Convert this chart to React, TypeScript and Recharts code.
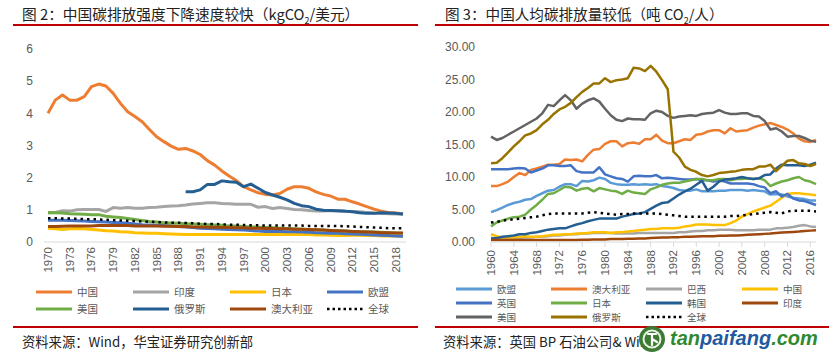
import React from "react";
import { LineChart, Line, XAxis, YAxis } from "recharts";

// ---------- 图2 data (kgCO2/美元), 1970-2019 ----------
const years1 = [
  1970, 1971, 1972, 1973, 1974, 1975, 1976, 1977, 1978, 1979,
  1980, 1981, 1982, 1983, 1984, 1985, 1986, 1987, 1988, 1989,
  1990, 1991, 1992, 1993, 1994, 1995, 1996, 1997, 1998, 1999,
  2000, 2001, 2002, 2003, 2004, 2005, 2006, 2007, 2008, 2009,
  2010, 2011, 2012, 2013, 2014, 2015, 2016, 2017, 2018, 2019,
];
const china1 = [4.0, 4.41, 4.57, 4.41, 4.41, 4.52, 4.83, 4.91, 4.85, 4.62, 4.31, 4.05, 3.9, 3.74, 3.5, 3.27, 3.12, 2.98, 2.88, 2.91, 2.83, 2.72, 2.53, 2.39, 2.21, 2.05, 1.91, 1.72, 1.62, 1.53, 1.48, 1.46, 1.51, 1.64, 1.72, 1.72, 1.67, 1.56, 1.48, 1.43, 1.33, 1.33, 1.25, 1.18, 1.1, 1.02, 0.96, 0.92, 0.9, 0.88];
const india1 = [0.9, 0.92, 0.97, 0.96, 1.0, 1.01, 1.01, 1.01, 0.95, 1.07, 1.05, 1.07, 1.05, 1.05, 1.07, 1.08, 1.1, 1.12, 1.13, 1.15, 1.18, 1.2, 1.22, 1.22, 1.2, 1.19, 1.17, 1.17, 1.17, 1.08, 1.1, 1.04, 1.07, 1.04, 1.01, 1.0, 0.98, 0.96, 0.96, 0.98, 0.96, 0.95, 0.95, 0.94, 0.92, 0.9, 0.89, 0.88, 0.87, 0.86];
const japan1 = [0.43, 0.41, 0.39, 0.41, 0.42, 0.41, 0.39, 0.37, 0.35, 0.34, 0.32, 0.31, 0.29, 0.28, 0.27, 0.27, 0.26, 0.25, 0.24, 0.23, 0.23, 0.23, 0.23, 0.23, 0.23, 0.23, 0.23, 0.23, 0.23, 0.23, 0.23, 0.23, 0.23, 0.23, 0.23, 0.23, 0.23, 0.22, 0.22, 0.21, 0.2, 0.2, 0.21, 0.21, 0.2, 0.2, 0.19, 0.19, 0.19, 0.18];
const eu1 = [0.68, 0.68, 0.68, 0.67, 0.66, 0.65, 0.64, 0.63, 0.62, 0.61, 0.6, 0.58, 0.56, 0.54, 0.53, 0.52, 0.51, 0.5, 0.48, 0.47, 0.45, 0.43, 0.42, 0.41, 0.4, 0.39, 0.38, 0.37, 0.36, 0.34, 0.33, 0.33, 0.33, 0.32, 0.32, 0.31, 0.3, 0.29, 0.28, 0.27, 0.27, 0.26, 0.25, 0.24, 0.23, 0.22, 0.21, 0.2, 0.19, 0.18];
const us1 = [0.92, 0.91, 0.9, 0.88, 0.87, 0.86, 0.85, 0.85, 0.8, 0.78, 0.76, 0.73, 0.7, 0.67, 0.64, 0.62, 0.6, 0.59, 0.58, 0.57, 0.56, 0.55, 0.54, 0.53, 0.52, 0.5, 0.5, 0.48, 0.47, 0.46, 0.45, 0.44, 0.43, 0.42, 0.41, 0.4, 0.39, 0.38, 0.37, 0.36, 0.35, 0.34, 0.33, 0.32, 0.32, 0.31, 0.3, 0.29, 0.28, 0.27];
const russia1 = [null, null, null, null, null, null, null, null, null, null, null, null, null, null, null, null, null, null, null, 1.56, 1.56, 1.62, 1.79, 1.79, 1.9, 1.87, 1.86, 1.72, 1.8, 1.67, 1.54, 1.46, 1.39, 1.31, 1.2, 1.13, 1.1, 1.02, 0.99, 0.98, 0.97, 0.96, 0.94, 0.91, 0.89, 0.89, 0.91, 0.9, 0.89, 0.87];
const aus1 = [0.48, 0.48, 0.49, 0.5, 0.5, 0.5, 0.5, 0.51, 0.51, 0.51, 0.51, 0.51, 0.5, 0.5, 0.5, 0.5, 0.49, 0.49, 0.48, 0.48, 0.47, 0.47, 0.46, 0.46, 0.45, 0.45, 0.44, 0.44, 0.43, 0.43, 0.42, 0.42, 0.41, 0.41, 0.4, 0.4, 0.39, 0.38, 0.37, 0.36, 0.35, 0.34, 0.33, 0.32, 0.31, 0.3, 0.29, 0.29, 0.28, 0.28];
const world1 = [0.74, 0.74, 0.73, 0.73, 0.72, 0.71, 0.71, 0.7, 0.69, 0.68, 0.67, 0.66, 0.65, 0.64, 0.63, 0.62, 0.61, 0.6, 0.6, 0.59, 0.58, 0.57, 0.56, 0.56, 0.55, 0.54, 0.54, 0.53, 0.52, 0.52, 0.51, 0.51, 0.51, 0.51, 0.51, 0.51, 0.5, 0.5, 0.5, 0.5, 0.5, 0.49, 0.48, 0.47, 0.46, 0.45, 0.44, 0.43, 0.43, 0.43];
const yTicks1 = [0, 1, 2, 3, 4, 5, 6];

// ---------- 图3 data (吨CO2/人), 1960-2017 ----------
const years2 = [
  1960, 1961, 1962, 1963, 1964, 1965, 1966, 1967, 1968, 1969,
  1970, 1971, 1972, 1973, 1974, 1975, 1976, 1977, 1978, 1979,
  1980, 1981, 1982, 1983, 1984, 1985, 1986, 1987, 1988, 1989,
  1990, 1991, 1992, 1993, 1994, 1995, 1996, 1997, 1998, 1999,
  2000, 2001, 2002, 2003, 2004, 2005, 2006, 2007, 2008, 2009,
  2010, 2011, 2012, 2013, 2014, 2015, 2016, 2017,
];
const eu2 = [4.6, 4.9, 5.3, 5.7, 6.0, 6.2, 6.5, 6.6, 7.1, 7.5, 7.9, 8.0, 8.5, 8.9, 8.9, 8.6, 9.4, 9.3, 9.5, 9.9, 9.7, 9.1, 8.9, 8.8, 8.8, 8.9, 8.8, 8.9, 8.8, 8.9, 8.6, 8.5, 8.3, 8.0, 7.9, 7.9, 8.1, 7.8, 7.8, 7.8, 7.9, 7.9, 8.0, 8.0, 8.0, 7.9, 8.0, 7.9, 7.8, 7.3, 7.4, 7.3, 7.0, 6.8, 6.7, 6.6, 6.4, 6.4];
const aus2 = [8.6, 8.6, 8.9, 9.3, 10.0, 10.6, 10.3, 11.1, 11.3, 11.6, 11.9, 11.9, 12.0, 12.7, 12.6, 12.7, 12.4, 13.4, 14.2, 14.3, 15.1, 15.5, 15.5, 14.7, 15.2, 15.3, 15.1, 15.8, 15.8, 16.5, 15.6, 15.2, 15.2, 15.5, 15.8, 15.7, 16.5, 16.6, 17.0, 17.2, 17.2, 16.7, 17.5, 17.0, 17.1, 17.2, 17.6, 17.9, 18.1, 18.3, 18.0, 17.7, 17.3, 16.7, 15.9, 15.5, 15.4, 15.7];
const brazil2 = [0.6, 0.6, 0.6, 0.6, 0.6, 0.6, 0.7, 0.7, 0.8, 0.8, 0.9, 1.0, 1.0, 1.1, 1.2, 1.2, 1.3, 1.3, 1.4, 1.4, 1.4, 1.4, 1.3, 1.3, 1.3, 1.3, 1.4, 1.4, 1.4, 1.4, 1.4, 1.4, 1.4, 1.5, 1.5, 1.6, 1.7, 1.7, 1.8, 1.8, 1.9, 1.9, 1.9, 1.8, 1.8, 1.8, 1.8, 1.9, 1.9, 1.9, 2.1, 2.1, 2.2, 2.3, 2.5, 2.6, 2.4, 2.3];
const china2 = [1.2, 0.9, 0.7, 0.7, 0.7, 0.8, 0.9, 0.8, 0.8, 0.9, 1.0, 1.1, 1.1, 1.2, 1.2, 1.3, 1.3, 1.4, 1.5, 1.5, 1.5, 1.4, 1.5, 1.5, 1.6, 1.7, 1.8, 1.9, 2.0, 2.0, 2.1, 2.1, 2.1, 2.2, 2.4, 2.5, 2.7, 2.7, 2.7, 2.6, 2.6, 2.6, 2.9, 3.3, 3.9, 4.3, 4.7, 5.0, 5.3, 5.6, 6.2, 6.8, 7.4, 7.5, 7.5, 7.4, 7.3, 7.2];
const uk2 = [11.2, 11.2, 11.2, 11.2, 11.3, 11.4, 11.3, 10.7, 11.0, 11.3, 11.8, 11.8, 11.7, 11.7, 11.8, 10.9, 10.7, 10.7, 10.7, 11.5, 10.4, 10.1, 9.8, 9.7, 9.3, 10.1, 10.2, 10.1, 10.1, 10.3, 9.8, 9.9, 9.8, 9.7, 9.6, 9.6, 9.7, 9.5, 9.5, 9.3, 9.5, 9.3, 9.0, 9.0, 9.0, 9.0, 8.9, 8.6, 8.4, 7.5, 7.8, 7.0, 7.4, 6.7, 6.4, 6.3, 6.0, 5.7];
const japan2 = [2.4, 3.0, 3.3, 3.6, 3.8, 3.9, 4.2, 5.0, 5.7, 6.5, 7.4, 7.5, 8.0, 8.5, 8.4, 7.9, 8.2, 8.3, 7.8, 8.3, 8.1, 7.9, 7.8, 7.4, 7.9, 7.6, 7.5, 7.4, 8.1, 8.4, 8.8, 9.0, 9.1, 9.1, 9.3, 9.5, 9.7, 9.7, 9.5, 9.5, 9.7, 9.7, 9.5, 9.7, 9.7, 9.8, 9.7, 9.8, 9.5, 8.6, 9.0, 9.3, 9.5, 9.8, 10.0, 9.5, 9.3, 8.9];
const korea2 = [0.5, 0.6, 0.8, 0.9, 1.0, 1.2, 1.2, 1.4, 1.5, 1.7, 1.9, 2.0, 2.1, 2.1, 2.4, 2.7, 2.9, 3.2, 3.4, 3.6, 3.6, 3.6, 3.6, 3.9, 4.1, 4.3, 4.4, 4.6, 5.1, 5.6, 6.0, 6.1, 6.7, 7.3, 7.8, 8.2, 8.8, 9.4, 7.9, 8.5, 9.3, 9.6, 9.7, 9.8, 10.0, 9.8, 9.7, 9.8, 10.3, 10.4, 11.3, 11.9, 11.8, 11.8, 11.8, 11.7, 11.9, 12.2];
const india2 = [0.3, 0.3, 0.3, 0.3, 0.3, 0.3, 0.3, 0.3, 0.3, 0.3, 0.3, 0.3, 0.3, 0.3, 0.3, 0.3, 0.35, 0.35, 0.4, 0.4, 0.4, 0.45, 0.45, 0.45, 0.5, 0.5, 0.55, 0.55, 0.6, 0.65, 0.7, 0.7, 0.75, 0.75, 0.8, 0.8, 0.85, 0.9, 0.9, 0.9, 0.95, 0.95, 1.0, 1.0, 1.05, 1.1, 1.15, 1.2, 1.25, 1.3, 1.4, 1.45, 1.5, 1.55, 1.6, 1.7, 1.75, 1.8];
const us2 = [16.2, 15.7, 16.0, 16.5, 17.0, 17.5, 18.0, 18.5, 19.0, 19.8, 21.1, 20.9, 21.8, 22.6, 21.8, 20.5, 21.3, 21.8, 22.1, 21.6, 20.5, 19.5, 18.8, 18.6, 19.0, 18.9, 18.9, 18.8, 19.8, 20.2, 20.0, 19.4, 19.1, 19.3, 19.4, 19.5, 19.4, 19.7, 19.8, 19.9, 20.3, 19.9, 19.7, 19.7, 19.8, 19.8, 19.4, 19.3, 18.6, 17.3, 17.5, 17.0, 16.2, 16.3, 16.3, 16.0, 15.6, 15.4];
const russia2 = [12.1, 12.2, 12.9, 13.8, 14.7, 15.5, 16.4, 16.7, 17.2, 18.1, 18.8, 19.7, 20.4, 20.8, 21.4, 22.3, 23.1, 23.7, 24.4, 24.4, 25.2, 24.6, 24.9, 25.0, 25.2, 26.8, 26.7, 26.3, 27.1, 26.2, 24.9, 23.5, 13.9, 13.0, 11.6, 11.1, 10.8, 10.3, 10.1, 10.3, 10.6, 10.7, 10.8, 10.9, 11.1, 11.2, 11.2, 11.6, 11.6, 11.9, 10.9, 11.7, 12.5, 12.6, 12.1, 12.0, 11.7, 12.0];
const world2 = [3.0, 3.1, 3.3, 3.4, 3.5, 3.6, 3.7, 3.8, 3.9, 4.1, 4.3, 4.4, 4.4, 4.4, 4.4, 4.4, 4.4, 4.5, 4.6, 4.5, 4.4, 4.3, 4.2, 4.3, 4.3, 4.4, 4.4, 4.4, 4.4, 4.4, 4.3, 4.2, 4.1, 4.0, 3.9, 3.9, 3.9, 3.9, 3.9, 3.9, 3.9, 3.9, 4.0, 4.0, 4.1, 4.2, 4.3, 4.4, 4.5, 4.6, 4.5, 4.4, 4.7, 4.8, 4.8, 4.8, 4.8, 4.7];
const yTicks2 = [0, 5, 10, 15, 20, 25, 30];

type Series = { key: string; name: string; color: string; values: (number | null)[]; dotted?: boolean };

const series1: Series[] = [
  { key: "china", name: "中国", color: "#ED7D31", values: china1 },
  { key: "india", name: "印度", color: "#A5A5A5", values: india1 },
  { key: "japan", name: "日本", color: "#FFC000", values: japan1 },
  { key: "eu", name: "欧盟", color: "#4472C4", values: eu1 },
  { key: "us", name: "美国", color: "#70AD47", values: us1 },
  { key: "russia", name: "俄罗斯", color: "#255E91", values: russia1 },
  { key: "aus", name: "澳大利亚", color: "#9E480E", values: aus1 },
  { key: "world", name: "全球", color: "#000000", values: world1, dotted: true },
];

const series2: Series[] = [
  { key: "eu", name: "欧盟", color: "#5B9BD5", values: eu2 },
  { key: "aus", name: "澳大利亚", color: "#ED7D31", values: aus2 },
  { key: "brazil", name: "巴西", color: "#A5A5A5", values: brazil2 },
  { key: "china", name: "中国", color: "#FFC000", values: china2 },
  { key: "uk", name: "英国", color: "#4472C4", values: uk2 },
  { key: "japan", name: "日本", color: "#70AD47", values: japan2 },
  { key: "korea", name: "韩国", color: "#255E91", values: korea2 },
  { key: "india", name: "印度", color: "#9E480E", values: india2 },
  { key: "us", name: "美国", color: "#636363", values: us2 },
  { key: "russia", name: "俄罗斯", color: "#997300", values: russia2 },
  { key: "world", name: "全球", color: "#000000", values: world2, dotted: true },
];

const buildRows = (years: number[], list: Series[]) =>
  years.map((year, i) => {
    const row: Record<string, number | null> = { year };
    list.forEach((s) => (row[s.key] = s.values[i]));
    return row;
  });

const data1 = buildRows(years1, series1);
const data2 = buildRows(years2, series2);

const CJK = '"Noto Sans CJK SC", "Liberation Sans", sans-serif';
const NUM = '"Liberation Sans", Arial, sans-serif';
const GRAY = "#595959";
const RED = "#C00000";

const RotTick = (props: any) => {
  const { x, y, payload } = props;
  return (
    <text
      x={x}
      y={y}
      transform={`rotate(-90 ${x} ${y})`}
      textAnchor="end"
      dominantBaseline="central"
      fill={GRAY}
      fontSize={11.5}
      fontFamily={NUM}
    >
      {payload.value}
    </text>
  );
};

function Legend({ items, cols, rows, fontSize = 10.5, lineLen = 38 }: { items: Series[]; cols: number[]; rows: number[]; fontSize?: number; lineLen?: number }) {
  return (
    <>
      {items.map((s, i) => {
        const x = cols[i % cols.length];
        const y = rows[Math.floor(i / cols.length)];
        return (
          <div key={s.key} style={{ position: "absolute", left: x, top: y - 6, height: 12, lineHeight: "12px", display: "flex", alignItems: "center" }}>
            <svg width={lineLen} height={6} style={{ display: "block" }}>
              <line
                x1={1}
                y1={3}
                x2={lineLen - 1}
                y2={3}
                stroke={s.color}
                strokeWidth={s.dotted ? 2.5 : 3}
                strokeDasharray={s.dotted ? "2.5 3" : undefined}
              />
            </svg>
            <span style={{ marginLeft: 4, fontSize, lineHeight: "12px", color: GRAY, fontFamily: CJK, whiteSpace: "nowrap" }}>{s.name}</span>
          </div>
        );
      })}
    </>
  );
}

const redLine = (left: number, top: number, width: number) => (
  <div style={{ position: "absolute", left, top, width, height: 2, background: RED }} />
);

export default function App() {
  return (
    <div style={{ position: "absolute", left: 0, top: 0, width: 839, height: 359, background: "#fff", overflow: "hidden", fontFamily: CJK }}>
      {/* 图2 */}
      <div style={{ position: "absolute", left: 22, top: 3, fontSize: 14.7, color: "#222", whiteSpace: "nowrap" }}>
        图 2：中国碳排放强度下降速度较快（kgCO<sub style={{ fontSize: 9 }}>2</sub>/美元）
      </div>
      {redLine(13, 24, 405)}
      <div style={{ position: "absolute", left: 0, top: 0 }}>
        <LineChart width={420} height={290} data={data1} margin={{ top: 49, right: 14, bottom: 8, left: 0 }}>
          <XAxis
            dataKey="year"
            interval={2}
            height={40}
            padding={{ left: 4, right: 3 }}
            axisLine={{ stroke: "#D9D9D9" }}
            tickLine={false}
            tickSize={0}
            tickMargin={5}
            tick={<RotTick />}
          />
          <YAxis
            width={44}
            domain={[0, 6]}
            ticks={yTicks1}
            axisLine={false}
            tickLine={false}
            tickSize={0}
            tickMargin={11}
            tick={{ fill: GRAY, fontSize: 12, fontFamily: NUM }}
          />
          {series1.map((s) => (
            <Line
              key={s.key}
              type="linear"
              dataKey={s.key}
              stroke={s.color}
              strokeWidth={s.dotted ? 2.5 : 3}
              strokeDasharray={s.dotted ? "2.5 4" : undefined}
              strokeLinejoin="round"
              dot={false}
              activeDot={false}
              isAnimationActive={false}
            />
          ))}
        </LineChart>
      </div>
      <Legend items={series1} cols={[35, 132, 229, 326]} rows={[292, 309]} />
      {redLine(13, 326, 405)}
      <div style={{ position: "absolute", left: 22, top: 332, fontSize: 13.3, color: "#222", whiteSpace: "nowrap" }}>
        资料来源：Wind，华宝证券研究创新部
      </div>

      {/* 图3 */}
      <div style={{ position: "absolute", left: 445, top: 3, fontSize: 14.6, color: "#222", whiteSpace: "nowrap" }}>
        图 3：中国人均碳排放量较低（吨 CO<sub style={{ fontSize: 9 }}>2</sub>/人）
      </div>
      {redLine(435, 24, 394)}
      <div style={{ position: "absolute", left: 420, top: 0 }}>
        <LineChart width={419} height={290} data={data2} margin={{ top: 47, right: 23, bottom: 8, left: 0 }}>
          <XAxis
            dataKey="year"
            interval={3}
            height={40}
            padding={{ left: 0, right: 0 }}
            axisLine={{ stroke: "#D9D9D9" }}
            tickLine={{ stroke: "#D9D9D9" }}
            tickSize={5}
            tickMargin={3}
            tick={<RotTick />}
          />
          <YAxis
            width={71}
            domain={[0, 30]}
            ticks={yTicks2}
            axisLine={false}
            tickLine={false}
            tickSize={0}
            tickMargin={16}
            tickFormatter={(v: number) => v.toFixed(2)}
            tick={{ fill: GRAY, fontSize: 12, fontFamily: NUM }}
          />
          {series2.map((s) => (
            <Line
              key={s.key}
              type="linear"
              dataKey={s.key}
              stroke={s.color}
              strokeWidth={2.5}
              strokeDasharray={s.dotted ? "2.5 4" : undefined}
              strokeLinejoin="round"
              dot={false}
              activeDot={false}
              isAnimationActive={false}
            />
          ))}
        </LineChart>
      </div>
      <Legend items={series2} cols={[455, 550, 645, 741]} rows={[288.5, 302.5, 316.5]} fontSize={9.6} />
      {redLine(435, 326, 394)}
      <div style={{ position: "absolute", left: 443, top: 332, fontSize: 13.3, color: "#222", whiteSpace: "nowrap" }}>
        资料来源：英国 BP 石油公司&amp; Wind
      </div>
      {/* watermark logo */}
      <svg style={{ position: "absolute", left: 638, top: 325 }} width={28} height={28}>
        <circle cx={14} cy={14} r={13} fill="#3d7a35" />
        <circle cx={14} cy={14} r={8.5} fill="none" stroke="#e8f2e0" strokeWidth={2} />
        <path d="M10 9 L18 9 M14 9 L14 20 M14 14 L19 17" stroke="#ffffff" strokeWidth={2.2} fill="none" strokeLinecap="round" />
      </svg>
      <div style={{ position: "absolute", left: 670, top: 327, fontSize: 20, fontWeight: 700, fontStyle: "italic", fontFamily: NUM, whiteSpace: "nowrap" }}>
        <span style={{ color: "#2f8a2f" }}>tan</span>
        <span style={{ color: "#1f5aa0" }}>paifang</span>
        <span style={{ color: "#2f8a2f" }}>.com</span>
      </div>
    </div>
  );
}
